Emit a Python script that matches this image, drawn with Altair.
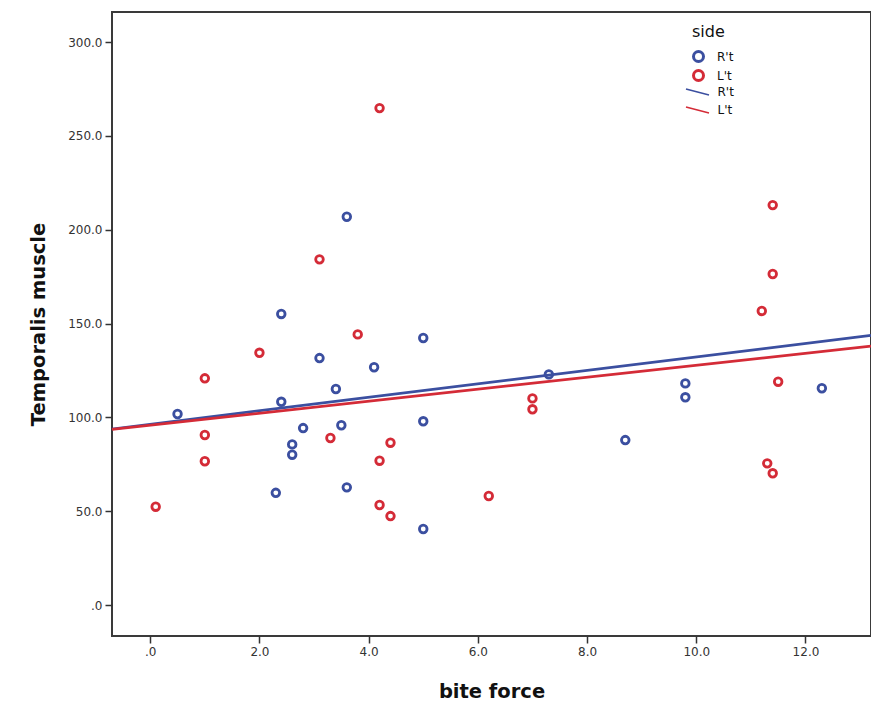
import altair as alt
import pandas as pd

# R't (right side) observations
rt_x = [0.5, 2.4, 2.4, 2.6, 2.6, 2.8, 2.3, 3.1, 3.4, 3.5, 3.6, 3.6, 4.1, 5.0, 5.0, 5.0, 7.3, 8.7, 9.8, 9.8, 12.3]
rt_y = [101.8, 155.1, 108.3, 85.6, 80.1, 94.3, 59.8, 131.6, 115.1, 95.8, 206.9, 62.7, 126.7, 142.3, 97.9, 40.5, 122.9, 87.9, 118.1, 110.7, 115.5]

# L't (left side) observations
lt_x = [0.1, 1.0, 1.0, 1.0, 2.0, 3.1, 3.3, 3.8, 4.2, 4.2, 4.2, 4.4, 4.4, 6.2, 7.0, 7.0, 11.2, 11.4, 11.4, 11.5, 11.3, 11.4]
lt_y = [52.4, 120.8, 90.6, 76.6, 134.4, 184.2, 89.0, 144.2, 264.8, 76.9, 53.3, 86.5, 47.4, 58.1, 110.1, 104.3, 156.7, 213.1, 176.4, 119.0, 75.5, 70.2]

# fit lines (values read at the plot edges)
fit_x = [-0.7, 13.2]
fit_rt = [93.8, 143.7]
fit_lt = [93.6, 138.0]

sides = ["R't", "L't"]
fit_sides = ["R't fit", "L't fit"]
colors = ["#3b4fa0", "#d42b37"]

pts = pd.DataFrame({
    "bite": rt_x + lt_x,
    "temp": rt_y + lt_y,
    "side": ["R't"] * len(rt_x) + ["L't"] * len(lt_x),
})
fits = pd.DataFrame({
    "bite": fit_x + fit_x,
    "temp": fit_rt + fit_lt,
    "side_fit": [fit_sides[0]] * 2 + [fit_sides[1]] * 2,
    "order": [0, 1, 2, 3],
})

x_dom = [-0.7, 13.2]
y_dom = [-16.5, 316]

lab = "datum.value == 0 ? '.0' : format(datum.value, '.1f')"

xenc = alt.X("bite:Q", scale=alt.Scale(domain=x_dom, nice=False, zero=False),
             axis=alt.Axis(values=[0, 2, 4, 6, 8, 10, 12], labelExpr=lab, title="bite force",
                           titleBaseline="alphabetic", titleY=61, titleX=379.5))
yenc = alt.Y("temp:Q", scale=alt.Scale(domain=y_dom, nice=False, zero=False),
             axis=alt.Axis(values=[0, 50, 100, 150, 200, 250, 300], labelExpr=lab,
                           title="Temporalis muscle", titleBaseline="alphabetic",
                           titleX=-68, titleY=312, titleAngle=-90))

lines = alt.Chart(fits).mark_line(strokeWidth=2.7).encode(
    x=xenc, y=yenc,
    stroke=alt.Stroke("side_fit:N", scale=alt.Scale(domain=fit_sides, range=colors),
                      legend=alt.Legend(title=None, orient="none", legendX=576.5, legendY=71,
                                        symbolType="M-1.44,-0.38L1.44,0.38", symbolSize=256,
                                        symbolStrokeWidth=1.5, rowPadding=2, labelOffset=11,
                                        labelFontSize=12, padding=0,
                                        labelExpr="split(datum.label, ' ')[0]")),
    detail="side_fit:N",
    order="order:Q",
)

points = alt.Chart(pts).mark_point(filled=False, size=58, strokeWidth=2.8, opacity=1).encode(
    x=xenc, y=yenc,
    color=alt.Color("side:N", scale=alt.Scale(domain=sides, range=colors),
                    legend=alt.Legend(title="side", orient="none", legendX=580, legendY=12,
                                      symbolType="circle", symbolSize=100, symbolStrokeWidth=3,
                                      titleFontSize=16, titleFontWeight="normal", titlePadding=10,
                                      rowPadding=-4, labelOffset=12, labelFontSize=12, padding=0)),
)

chart = alt.layer(points, lines).resolve_legend(color="independent", stroke="independent").properties(
    width=759, height=624,
    padding={"left": 104, "top": 4, "right": 0, "bottom": 70},
    autosize=alt.AutoSizeParams(type="none"),
    background="white",
).configure_view(
    stroke="#3a3a3a", strokeWidth=2
).configure_axis(
    grid=False, domain=False, tickColor="#333333", tickWidth=1.5, tickSize=7,
    labelFont="DejaVu Sans", labelFontSize=12, labelColor="#333333", labelPadding=3,
    titleFont="DejaVu Sans", titleFontSize=19.5, titleFontWeight="bold", titleColor="#111111",
).configure_legend(
    labelFont="DejaVu Sans", titleFont="DejaVu Sans", labelColor="#111111", titleColor="#111111",
)

chart.save("out.html", embed_options={"renderer": "svg", "actions": False})
